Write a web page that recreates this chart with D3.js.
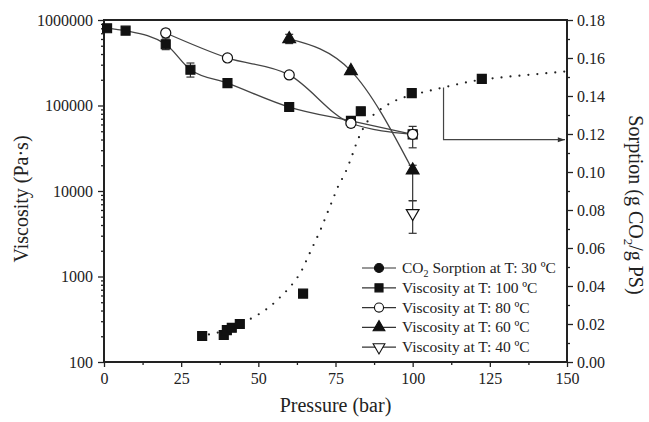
<!DOCTYPE html>
<html>
<head>
<meta charset="utf-8">
<script src="https://cdn.jsdelivr.net/npm/d3@7"></script>
<style>
  body { margin: 0; background: #fff; }
  svg text { font-family: "Liberation Serif", "Times New Roman", "DejaVu Serif", serif !important; fill: #222; }
  .axis path, .axis line { stroke: #222; }
</style>
</head>
<body>
<svg id="chart" width="649" height="422"></svg>
<script>
// data
var pressureTicks = [0, 25, 50, 75, 100, 125, 150];
var viscTicks = [100, 1000, 10000, 100000, 1000000];
var sorpTicks = [0, 0.02, 0.04, 0.06, 0.08, 0.10, 0.12, 0.14, 0.16, 0.18];

// viscosity at 100 C (filled squares)
var p100 = [1, 7, 20, 28, 40, 60, 80, 100];
var v100 = [800000, 750000, 520000, 262000, 183000, 96000, 66000, 46000];
var e100 = [null, null, [450000, 600000], [215000, 314000], null, null, null, null];

// viscosity at 80 C (open circles)
var p80 = [20, 40, 60, 80, 100];
var v80 = [705000, 360000, 228000, 62000, 46000];
var e80 = [[630000, 780000], [330000, 390000], null, [56000, 72000], [32000, 57000]];

// viscosity at 60 C (filled triangles)
var p60 = [60, 80, 100];
var v60 = [600000, 254000, 17500];
var e60 = [[530000, 680000], null, [7700, 20000]];

// viscosity at 40 C (open down triangle)
var p40 = [100];
var v40 = [5500];
var e40 = [[3200, 7700]];

// CO2 sorption at 30 C (right axis)
var pSorp = [31.8, 38.8, 39.8, 41.4, 44, 64.5, 83.2, 99.7, 122.4];
var sSorp = [0.0137, 0.0142, 0.0168, 0.018, 0.020, 0.036, 0.132, 0.1415, 0.149];

// dotted sorption fit
var pFit = [34, 38, 42, 46, 50, 54, 57, 60, 62, 64, 66, 68, 70, 72, 74, 76, 78, 80, 82, 84, 86, 88, 91, 95, 100, 110, 120, 130, 140, 150];
var sFit = [0.0145, 0.016, 0.0185, 0.0215, 0.025, 0.0295, 0.034, 0.039, 0.043, 0.048, 0.055, 0.062, 0.069, 0.077, 0.085, 0.093, 0.099, 0.107, 0.116, 0.123, 0.128, 0.131, 0.1345, 0.138, 0.1405, 0.1445, 0.148, 0.150, 0.1515, 0.153];

var legendItems = [
    { label: "CO", sub: "2", rest: " Sorption at T: 30 ºC", sym: d3.symbolCircle, fill: "#111", rot: 0 },
    { label: "Viscosity at T: 100 ºC", sym: d3.symbolSquare, fill: "#111", rot: 0 },
    { label: "Viscosity at T: 80 ºC", sym: d3.symbolCircle, fill: "#fff", rot: 0 },
    { label: "Viscosity at T: 60 ºC", sym: d3.symbolTriangle, fill: "#111", rot: 0 },
    { label: "Viscosity at T: 40 ºC", sym: d3.symbolTriangle, fill: "#fff", rot: 180 }
];

var serif = "'Liberation Serif', 'Times New Roman', 'DejaVu Serif', serif";

var svg = d3.select("#chart").style("font-family", serif),
    margin = { top: 20, right: 82, bottom: 60, left: 104 },
    width = 649 - margin.left - margin.right,
    height = 422 - margin.top - margin.bottom;

var x = d3.scaleLinear().domain([0, 150]).range([0, width]);
var yL = d3.scaleLog().domain([100, 1000000]).range([height, 0]);
var yR = d3.scaleLinear().domain([0, 0.18]).range([height, 0]);

var g = svg.append("g")
    .attr("transform", "translate(" + margin.left + "," + margin.top + ")");

// minor ticks
var minorVisc = [];
[100, 1000, 10000, 100000].forEach(function (d) {
    for (var k = 2; k <= 9; k++) minorVisc.push(d * k);
});
var minorP = pressureTicks.slice(0, -1).map(function (d) { return d + 12.5; });
var minorS = sorpTicks.slice(0, -1).map(function (d) { return d + 0.01; });

g.append("g").attr("class", "axis")
    .call(d3.axisLeft(yL).tickValues(minorVisc).tickSize(3).tickFormat(""));
g.append("g").attr("class", "axis")
    .attr("transform", "translate(0," + height + ")")
    .call(d3.axisBottom(x).tickValues(minorP).tickSize(3).tickFormat(""));
g.append("g").attr("class", "axis")
    .attr("transform", "translate(" + width + ",0)")
    .call(d3.axisRight(yR).tickValues(minorS).tickSize(3).tickFormat(""));

var axL = g.append("g").attr("class", "axis")
    .call(d3.axisLeft(yL).tickValues(viscTicks).tickSize(6).tickPadding(5).tickFormat(d3.format("d")));
var axB = g.append("g").attr("class", "axis")
    .attr("transform", "translate(0," + height + ")")
    .call(d3.axisBottom(x).tickValues(pressureTicks).tickSize(5).tickPadding(6));
var axR = g.append("g").attr("class", "axis")
    .attr("transform", "translate(" + width + ",0)")
    .call(d3.axisRight(yR).tickValues(sorpTicks).tickSize(6).tickPadding(4).tickFormat(d3.format(".2f")));

g.selectAll(".axis").attr("font-family", serif);
g.selectAll(".axis path.domain").remove();
g.selectAll(".axis line").attr("stroke-width", 1.3);
[axL, axB, axR].forEach(function (a) {
    a.selectAll("text").style("font-size", "16px").style("font-family", serif).attr("fill", "#222");
});

// frame
g.append("rect")
    .attr("width", width).attr("height", height)
    .attr("fill", "none").attr("stroke", "#222").attr("stroke-width", 2);

// dotted sorption fit
var fitData = pFit.map(function (p, i) { return [p, sFit[i]]; });
g.append("path")
    .datum(fitData)
    .attr("fill", "none")
    .attr("stroke", "#222")
    .attr("stroke-width", 2.2)
    .attr("stroke-linecap", "round")
    .attr("stroke-dasharray", "0 9")
    .attr("d", d3.line()
        .x(function (d) { return x(d[0]); })
        .y(function (d) { return yR(d[1]); })
        .curve(d3.curveMonotoneX));

// arrow to right axis
svg.append("defs").append("marker")
    .attr("id", "arrow").attr("viewBox", "0 0 10 10")
    .attr("refX", 10).attr("refY", 5)
    .attr("markerWidth", 9).attr("markerHeight", 6)
    .attr("orient", "auto")
    .append("path").attr("d", "M0,1.5L10,5L0,8.5Z").attr("fill", "#333");

g.append("path")
    .attr("fill", "none").attr("stroke", "#444").attr("stroke-width", 1.2)
    .attr("marker-end", "url(#arrow)")
    .attr("d", "M" + x(110) + "," + yR(0.1445) + "V" + yR(0.117) + "H" + (x(150) - 2));

// viscosity curves
function curveOf(ps, vs, curve) {
    var pts = ps.map(function (p, i) { return [p, vs[i]]; });
    g.append("path")
        .datum(pts)
        .attr("fill", "none")
        .attr("stroke", "#444")
        .attr("stroke-width", 1.3)
        .attr("d", d3.line()
            .x(function (d) { return x(d[0]); })
            .y(function (d) { return yL(d[1]); })
            .curve(curve));
}
curveOf(p100, v100, d3.curveMonotoneX);
curveOf(p80, v80, d3.curveMonotoneX);
curveOf(p60, v60, d3.curveMonotoneX);

// error bars
function errorsOf(ps, errs) {
    ps.forEach(function (p, i) {
        var e = errs[i];
        if (!e) return;
        var eg = g.append("g").attr("stroke", "#333").attr("stroke-width", 1.2);
        eg.append("line").attr("x1", x(p)).attr("x2", x(p)).attr("y1", yL(e[0])).attr("y2", yL(e[1]));
        eg.append("line").attr("x1", x(p) - 4).attr("x2", x(p) + 4).attr("y1", yL(e[0])).attr("y2", yL(e[0]));
        eg.append("line").attr("x1", x(p) - 4).attr("x2", x(p) + 4).attr("y1", yL(e[1])).attr("y2", yL(e[1]));
    });
}
errorsOf(p100, e100);
errorsOf(p80, e80);
errorsOf(p60, e60);
errorsOf(p40, e40);

// markers
function markersOf(ps, vs, yScale, sym, size, fill, rot) {
    g.selectAll(null)
        .data(ps.map(function (p, i) { return [p, vs[i]]; }))
        .enter()
        .append("path")
        .attr("d", d3.symbol().type(sym).size(size))
        .attr("transform", function (d) {
            return "translate(" + x(d[0]) + "," + yScale(d[1]) + ") rotate(" + rot + ")";
        })
        .attr("fill", fill)
        .attr("stroke", "#111")
        .attr("stroke-width", 1.2);
}
markersOf(pSorp, sSorp, yR, d3.symbolSquare, 80, "#111", 0);
markersOf(p100, v100, yL, d3.symbolSquare, 80, "#111", 0);
markersOf(p80, v80, yL, d3.symbolCircle, 80, "#fff", 0);
markersOf(p60, v60, yL, d3.symbolTriangle, 70, "#111", 0);
markersOf(p40, v40, yL, d3.symbolTriangle, 70, "#fff", 180);

// legend
var lg = svg.append("g").attr("transform", "translate(362,268)");
legendItems.forEach(function (d, i) {
    var row = lg.append("g").attr("transform", "translate(0," + (i * 19.8) + ")");
    row.append("line").attr("x1", 0).attr("x2", 34).attr("y1", 0).attr("y2", 0)
        .attr("stroke", "#333").attr("stroke-width", 1.2);
    row.append("path")
        .attr("d", d3.symbol().type(d.sym).size(d.sym === d3.symbolTriangle ? 60 : 65))
        .attr("transform", "translate(17,0) rotate(" + d.rot + ")")
        .attr("fill", d.fill).attr("stroke", "#111").attr("stroke-width", 1.1);
    var t = row.append("text").attr("x", 40).attr("y", 5)
        .style("font-size", "15.5px").style("font-family", serif);
    t.append("tspan").text(d.label);
    if (d.sub) {
        t.append("tspan").attr("dy", 4).style("font-size", "10px").text(d.sub);
        t.append("tspan").attr("dy", -4).text(d.rest);
    }
});

// axis titles
svg.append("text")
    .attr("x", margin.left + width / 2).attr("y", 412)
    .attr("text-anchor", "middle")
    .style("font-size", "20px").style("font-family", serif)
    .text("Pressure (bar)");

svg.append("text")
    .attr("transform", "translate(28,199) rotate(-90)")
    .attr("text-anchor", "middle")
    .style("font-size", "20px").style("font-family", serif)
    .text("Viscosity (Pa·s)");

var rt = svg.append("text")
    .attr("transform", "translate(629,205) rotate(90)")
    .attr("text-anchor", "middle")
    .style("font-size", "20px").style("font-family", serif);
rt.append("tspan").text("Sorption (g CO");
rt.append("tspan").attr("dy", 5).style("font-size", "13px").text("2");
rt.append("tspan").attr("dy", -5).text("/g PS)");
</script>
</body>
</html>
